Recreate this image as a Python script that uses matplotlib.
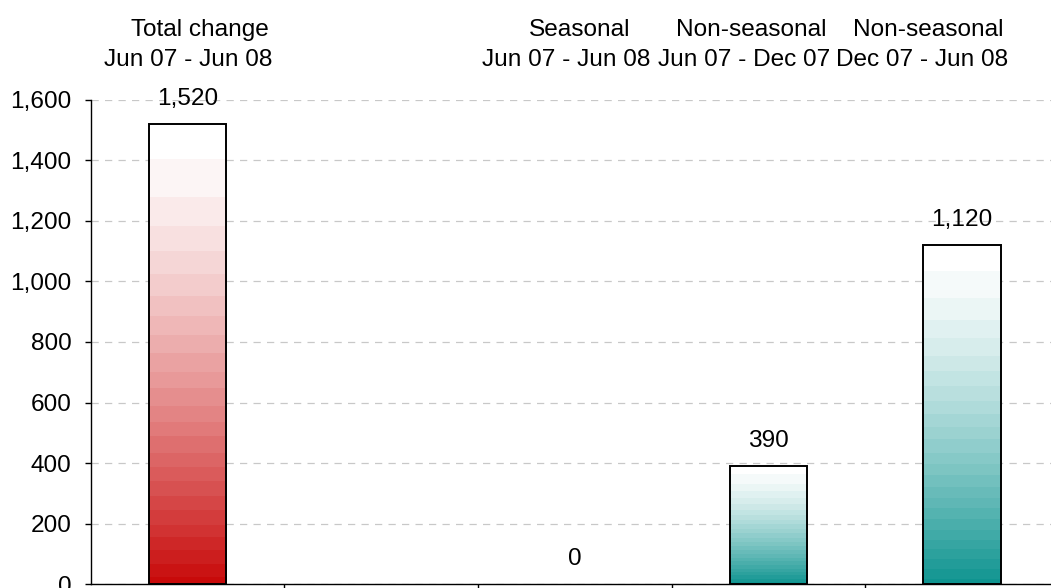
import numpy as np
import matplotlib
matplotlib.use("Agg")
import matplotlib.pyplot as plt
from matplotlib.colors import LinearSegmentedColormap

# ---- data ----
line1 = ["Total change", "", "Seasonal", "Non-seasonal", "Non-seasonal"]
line2 = ["Jun 07 - Jun 08", "", "Jun 07 - Jun 08", "Jun 07 - Dec 07", "Dec 07 - Jun 08"]
values = [1520, None, 0, 390, 1120]
bar_colors = ["#c80a0a", None, "#0f9490", "#0f9490", "#0f9490"]
yticks = [0, 200, 400, 600, 800, 1000, 1200, 1400, 1600]

plt.rcParams['font.family'] = ['Liberation Sans', 'DejaVu Sans']
FS = 17.6

W, H = 1051, 588
fig = plt.figure(figsize=(W / 100, H / 100), dpi=100)
ax = fig.add_axes([90.7 / W, 3.7 / H, 5 * 193.6 / W, 484.6 / H])

pos = [i for i, v in enumerate(values) if v is not None]
vals = [values[i] for i in pos]
cols = [bar_colors[i] for i in pos]

bars = ax.bar(pos, vals, width=0.4, facecolor='none', edgecolor='black',
              linewidth=1.4, zorder=4)

for rect, c in zip(bars, cols):
    x0, w = rect.get_x(), rect.get_width()
    h = rect.get_height()
    if h <= 0:
        rect.set_linewidth(0)
        continue
    cmap = LinearSegmentedColormap.from_list("g", ["white", c])
    tt = np.linspace(0, 1, 256).reshape(-1, 1)  # 0 at top, 1 at bottom
    colour_amt = tt ** 1.5
    q = np.round(colour_amt * 24) / 24
    im = ax.imshow(q, cmap=cmap, vmin=0, vmax=1, aspect='auto',
                   extent=[x0, x0 + w, 0, h], origin='upper', zorder=3,
                   interpolation='nearest')
    im.set_clip_path(rect)

ax.set_xlim(-0.5, 4.5)
ax.set_ylim(0, 1600)

ax.bar_label(bars, labels=[f"{v:,}" for v in vals], padding=10, fontsize=FS)

ax.set_yticks(yticks)
ax.set_yticklabels([f"{v:,}" for v in yticks])
ax.set_xticks([0.5, 1.5, 2.5, 3.5])
ax.set_xticklabels([])
ax.tick_params(axis='y', length=4.3, width=1, pad=9.5, labelsize=FS, direction='out')
ax.tick_params(axis='x', length=4.3, width=1, direction='out')
ax.yaxis.grid(True, color='#c8c8c8', linestyle=(0, (5.8, 5)), linewidth=0.9, zorder=0)
ax.set_axisbelow(True)
for s in ['top', 'right']:
    ax.spines[s].set_visible(False)
for s in ['left', 'bottom']:
    ax.spines[s].set_linewidth(1)
    ax.spines[s].set_color('black')

# category labels above plot (pixel centres)
c1 = [200, None, 580, 751, 928]
c2 = [188.5, None, 566.5, 744, 922]
for i in range(len(line1)):
    if line1[i]:
        fig.text(c1[i] / W, 1 - 36 / H, line1[i], ha='center', va='baseline', fontsize=FS)
    if line2[i]:
        fig.text(c2[i] / W, 1 - 66 / H, line2[i], ha='center', va='baseline', fontsize=FS)

fig.savefig("out.png", dpi=100)
